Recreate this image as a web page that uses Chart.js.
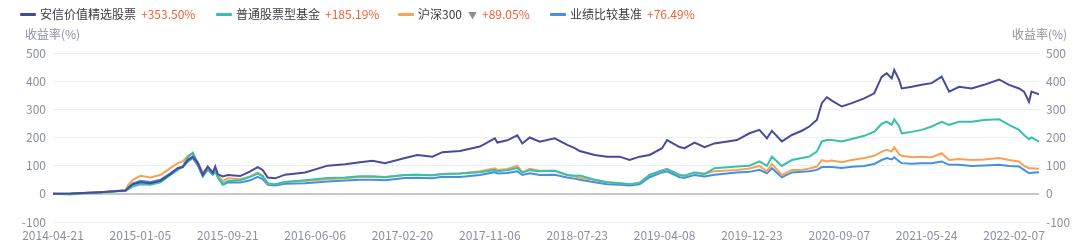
<!DOCTYPE html>
<html lang="zh">
  <head>
    <meta charset="utf-8" />
    <title>收益率走势</title>
    <style>
      * {
        margin: 0;
        padding: 0;
        font-family: "Noto Sans CJK SC", sans-serif;
      }
      body {
        width: 1080px;
        height: 247px;
        background: #fff;
        overflow: hidden;
      }
      .wrap {
        position: relative;
        width: 1080px;
        height: 247px;
      }
      canvas {
        position: absolute;
        left: 0;
        top: 0;
      }
      .legend {
        position: absolute;
        top: 5px;
        left: 20px;
        font-size: 12px;
        line-height: 18px;
        white-space: nowrap;
        color: #3a3b46;
      }
      .legend .item {
        position: absolute;
        top: 0;
      }
      .legend .mark {
        display: inline-block;
        width: 16px;
        height: 3px;
        border-radius: 1px;
        vertical-align: middle;
        margin-right: 4px;
        position: relative;
        top: -1px;
      }
      .legend .val {
        color: #f1613a;
        margin-left: 5px;
      }
      .legend .arrow {
        color: #8a8c98;
        font-size: 9px;
        margin-left: 6px;
      }
      .ytitle {
        position: absolute;
        top: 25px;
        font-size: 12px;
        color: #8d90a2;
      }
    </style>
  </head>
  <body>
    <div class="wrap">
      <canvas id="myChart" width="1080" height="247"></canvas>
      <div class="legend" id="legend"></div>
      <div class="ytitle" style="left: 25px">收益率(%)</div>
      <div class="ytitle" style="left: 1012px">收益率(%)</div>
    </div>
    <script src="https://cdn.jsdelivr.net/npm/chart.js/dist/chart.umd.min.js"></script>
    <script>
      // setup
      const seriesNames = ["安信价值精选股票", "普通股票型基金", "沪深300", "业绩比较基准"];
      const seriesTotals = ["+353.50%", "+185.19%", "+89.05%", "+76.49%"];
      const seriesColors = ["#474b9b", "#37c1aa", "#f6a25a", "#4590e2"];

      const tickWeeks = [0, 35, 70, 105, 140, 175, 210, 245, 280, 315, 350, 385];
      const tickLabels = [
        "2014-04-21", "2015-01-05", "2015-09-21", "2016-06-06",
        "2017-02-20", "2017-11-06", "2018-07-23", "2019-04-08",
        "2019-12-23", "2020-09-07", "2021-05-24", "2022-02-07",
      ];

      // weeks since 2014-04-21
      const weeks = [
        0, 7, 12, 19, 26, 29, 30, 32, 35, 39, 43, 47, 50, 52, 54, 56, 58, 60, 62, 64,
        65, 66, 68, 70, 75, 79, 82, 84, 86, 89, 93, 101, 110, 117, 123, 128, 133, 141, 146, 152,
        156, 163, 171, 177, 178, 182, 186, 188, 191, 195, 201, 206, 209, 211, 217, 222, 227, 231, 235, 239,
        244, 246, 251, 253, 257, 261, 265, 274, 279, 283, 286, 288, 292, 296, 300, 303, 306, 308, 310, 312,
        316, 320, 325, 329, 332, 334, 336, 337, 339, 340, 344, 348, 352, 356, 359, 363, 368, 373, 379, 383,
        387, 389, 391, 392, 395,
      ];
      const fund = [
        0, 1, 3, 6, 10, 12, 20, 34, 41, 38, 46, 70, 91, 95, 120, 132, 110, 67, 97, 74,
        97, 70, 62, 67, 63, 80, 95, 85, 58, 55, 68, 76, 100, 105, 112, 117, 109, 127, 138, 132,
        148, 152, 168, 197, 182, 190, 208, 179, 200, 185, 197, 174, 162, 152, 138, 132, 132, 120, 132, 138,
        162, 191, 166, 162, 182, 166, 179, 191, 215, 227, 197, 224, 186, 209, 224, 239, 262, 322, 343, 331,
        310, 322, 339, 357, 416, 428, 410, 440, 404, 374, 380, 387, 393, 416, 363, 380, 374, 387, 406, 387,
        374, 363, 327, 363, 353.5,
      ];
      const peers = [
        0, -2, 2, 5, 9, 10, 15, 26, 34, 32, 41, 67, 85, 97, 130, 146, 105, 62, 92, 70,
        85, 60, 35, 45, 48, 60, 72, 62, 38, 33, 42, 48, 56, 58, 62, 62, 60, 67, 68, 66,
        70, 72, 77, 85, 80, 84, 92, 75, 84, 80, 82, 67, 64, 65, 50, 41, 38, 34, 38, 67,
        83, 88, 67, 64, 76, 70, 91, 97, 100, 115, 99, 132, 99, 120, 127, 132, 150, 186, 191, 191,
        186, 195, 206, 221, 249, 256, 245, 265, 239, 215, 220, 227, 239, 256, 245, 256, 256, 262, 265, 245,
        227, 209, 194, 200, 185.19,
      ];
      const csi300 = [
        0, 0, 3, 6, 11, 13, 30, 50, 64, 58, 67, 91, 109, 115, 135, 144, 112, 77, 95, 80,
        88, 67, 45, 55, 52, 62, 75, 65, 36, 34, 42, 46, 52, 55, 60, 60, 58, 67, 68, 66,
        70, 72, 80, 91, 85, 88, 100, 77, 89, 82, 82, 67, 62, 56, 50, 41, 38, 34, 40, 67,
        83, 88, 67, 64, 76, 72, 80, 85, 90, 99, 80, 106, 67, 85, 85, 90, 97, 120, 115, 118,
        112, 120, 127, 135, 150, 156, 150, 166, 140, 135, 130, 132, 130, 144, 120, 124, 120, 122, 127, 120,
        115, 99, 91, 91, 89.05,
      ];
      const benchmark = [
        0, 0, 3, 6, 10, 12, 22, 37, 46, 42, 50, 73, 91, 97, 115, 127, 100, 62, 85, 68,
        80, 60, 32, 40, 40, 48, 60, 52, 32, 30, 36, 38, 44, 47, 50, 50, 48, 56, 57, 55,
        61, 60, 67, 77, 72, 74, 80, 67, 73, 67, 68, 58, 54, 50, 41, 34, 32, 30, 34, 59,
        76, 80, 59, 57, 67, 62, 68, 76, 78, 85, 73, 91, 59, 76, 78, 80, 85, 95, 95, 95,
        92, 96, 99, 106, 120, 127, 122, 130, 115, 109, 107, 109, 109, 115, 103, 103, 99, 101, 103, 99,
        97, 85, 73, 75, 76.49,
      ];

      const seriesData = [fund, peers, csi300, benchmark];

      // legend
      const legendX = [0, 196, 378, 530];
      const legend = document.getElementById("legend");
      seriesNames.forEach((name, i) => {
        const item = document.createElement("span");
        item.className = "item";
        item.style.left = legendX[i] + "px";
        let html = '<span class="mark" style="background:' + seriesColors[i] + '"></span>' + name;
        if (i === 2) html += '<span class="arrow">▼</span>';
        html += '<span class="val">' + seriesTotals[i] + "</span>";
        item.innerHTML = html;
        legend.appendChild(item);
      });

      const data = {
        datasets: seriesNames.map((name, i) => ({
          label: name,
          data: weeks.map((w, j) => ({ x: w, y: seriesData[i][j] })),
          borderColor: seriesColors[i],
          backgroundColor: seriesColors[i],
          borderWidth: 2,
          pointRadius: 0,
          tension: 0,
        })),
      };

      const tickFont = { family: "'Noto Sans CJK SC', sans-serif", size: 12 };
      const tickColor = "#8d90a2";

      // config
      const config = {
        type: "line",
        data,
        options: {
          responsive: false,
          animation: false,
          devicePixelRatio: 1,
          layout: { padding: { top: 53, left: 0, right: 0, bottom: 0 } },
          plugins: {
            legend: { display: false },
            tooltip: { enabled: false },
          },
          scales: {
            x: {
              type: "linear",
              min: 0,
              max: 395,
              afterBuildTicks: (axis) => {
                axis.ticks = tickWeeks.map((v) => ({ value: v }));
              },
              afterFit: (scale) => {
                scale.height = 25;
              },
              grid: { display: false, drawTicks: false },
              border: { display: false },
              ticks: {
                autoSkip: false,
                maxRotation: 0,
                padding: 6,
                color: tickColor,
                font: tickFont,
                callback: (value) => {
                  const i = tickWeeks.indexOf(value);
                  return i >= 0 ? tickLabels[i] : "";
                },
              },
            },
            y: {
              position: "left",
              min: -100,
              max: 500,
              afterFit: (scale) => {
                scale.width = 53;
              },
              grid: {
                drawTicks: false,
                color: (ctx) => (ctx.tick && ctx.tick.value === 0 ? "#c6c8d0" : "#eceef6"),
                lineWidth: (ctx) => (ctx.tick && ctx.tick.value === 0 ? 2 : 1),
              },
              border: { display: false },
              ticks: { stepSize: 100, padding: 7, color: tickColor, font: tickFont },
            },
            y2: {
              position: "right",
              min: -100,
              max: 500,
              afterFit: (scale) => {
                scale.width = 41;
              },
              grid: { display: false, drawTicks: false },
              border: { display: false },
              ticks: { stepSize: 100, padding: 7, color: tickColor, font: tickFont },
            },
          },
        },
      };

      // render init block
      const myChart = new Chart(document.getElementById("myChart"), config);
    </script>
  </body>
</html>
